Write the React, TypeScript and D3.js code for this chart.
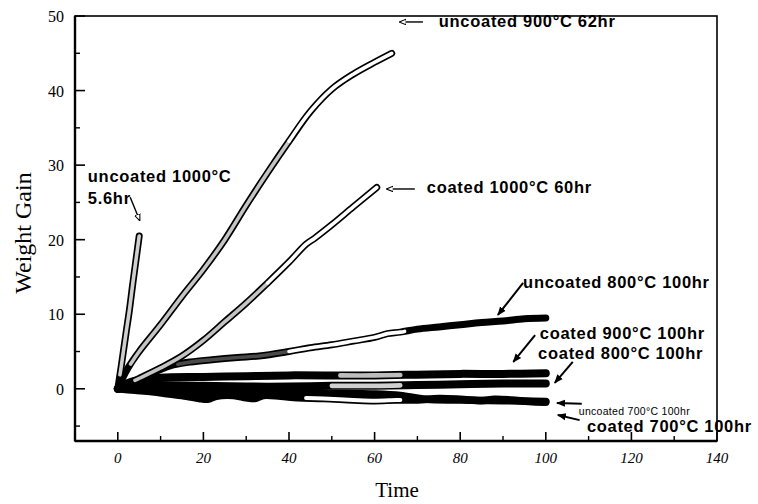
import React from "react";
import * as d3 from "d3";

type P = [number, number];

// ---- data (hours, weight gain) ----
const uncoated1000: P[] = [[0,0],[0.4,1.5],[0.8,3],[1.3,5],[1.9,7.4],[2.7,10.5],[3.5,14.1],[4.3,17.5],[5.0,20.5]];
const uncoated900: P[] = [[0,0],[1,1.3],[2.5,2.9],[5,5],[10,8.6],[15,12.4],[20,16],[25,20],[30,24.6],[35,29],[40,33.2],[45,37.2],[50,40.2],[55,42.2],[60,43.8],[64,45]];
const coated1000: P[] = [[0,0],[2,0.6],[5,1.4],[10,2.8],[15,4.4],[20,6.5],[25,9],[30,11.5],[35,14.2],[40,17],[44,19.4],[46,20.2],[50,22],[55,24.4],[60.5,27]];
const uncoated800: P[] = [[0,0],[3,0.7],[6,1.5],[10,2.6],[13,3.2],[17,3.6],[22,3.9],[28,4.2],[33,4.4],[40,5],[45,5.5],[50,5.9],[55,6.4],[60,6.9],[63,7.4],[66,7.6],[70,8.0],[75,8.3],[80,8.6],[85,8.9],[90,9.1],[95,9.4],[100,9.5]];
const coated900: P[] = [[0,0],[3,0.9],[6,1.3],[10,1.5],[20,1.6],[30,1.7],[40,1.8],[50,1.8],[60,1.8],[70,1.9],[80,2.0],[90,2.0],[100,2.1]];
const coated800: P[] = [[0,0],[3,0.5],[6,0.6],[10,0.5],[20,0.4],[30,0.3],[40,0.3],[50,0.4],[60,0.4],[70,0.5],[80,0.6],[90,0.7],[100,0.7]];
const uncoated700: P[] = [[0,0],[4,-0.2],[8,-0.4],[12,-0.7],[16,-1.0],[19,-1.3],[21,-1.4],[23,-1.0],[27,-0.9],[30,-1.2],[32,-1.3],[34,-0.9],[38,-1.0],[42,-1.2],[48,-1.3],[55,-1.5],[60,-1.6],[65,-1.5],[70,-1.5],[75,-1.3],[80,-1.4],[85,-1.6],[88,-1.4],[92,-1.5],[96,-1.7],[100,-1.8]];
const coated700: P[] = [[0,0],[5,-0.1],[10,-0.3],[20,-0.5],[30,-0.5],[40,-0.6],[50,-0.6],[60,-0.7],[66,-0.9],[72,-1.4],[80,-1.5],[90,-1.6],[100,-1.7]];

const xTicks = [0, 20, 40, 60, 80, 100, 120, 140];
const xMinor = [10, 30, 50, 70, 90, 110, 130];
const yTicks = [0, 10, 20, 30, 40, 50];
const yMinor = [-5, 5, 15, 25, 35, 45];

// annotations: label text, label anchor (data), arrow from -> to (data)
type Ann = { lines: string[]; at: P; from: P; to: P; size: number; weight: string; hollow: boolean };
const annotations: Ann[] = [
  { lines: ["uncoated 1000°C", "5.6hr"], at: [-7.0, 27.8], from: [2.9, 25.7], to: [5.1, 22.6], size: 16.5, weight: "bold", hollow: true },
  { lines: ["uncoated 900°C 62hr"], at: [75, 48.5], from: [71.3, 49.2], to: [65.9, 49.2], size: 16.5, weight: "bold", hollow: true },
  { lines: ["coated 1000°C 60hr"], at: [72.2, 26.3], from: [69.4, 26.8], to: [62.9, 26.8], size: 16.5, weight: "bold", hollow: true },
  { lines: ["uncoated 800°C 100hr"], at: [94.7, 13.5], from: [94.7, 14.2], to: [88.8, 9.9], size: 16.5, weight: "bold", hollow: false },
  { lines: ["coated 900°C 100hr"], at: [98.6, 6.7], from: [97.5, 7.2], to: [92.4, 3.6], size: 16.5, weight: "bold", hollow: false },
  { lines: ["coated 800°C 100hr"], at: [98.2, 4.0], from: [106.3, 3.6], to: [102.1, 0.8], size: 16.5, weight: "bold", hollow: false },
  { lines: ["uncoated 700°C 100hr"], at: [107.7, -3.5], from: [108.4, -2.0], to: [102.6, -1.9], size: 10.5, weight: "normal", hollow: false },
  { lines: ["coated 700°C 100hr"], at: [109.6, -5.8], from: [107.9, -4.2], to: [102.8, -3.5], size: 16.5, weight: "bold", hollow: false },
];

const W = 758, H = 504;
const x = d3.scaleLinear().domain([-10, 140]).range([75, 717]);
const y = d3.scaleLinear().domain([-7, 50]).range([441, 16]);

const line = d3.line<P>().x(d => x(d[0])).y(d => y(d[1])).curve(d3.curveCatmullRom.alpha(0.5));

function segment(pts: P[], x0: number, x1: number): P[] {
  const out: P[] = [];
  const interp = (a: P, b: P, xv: number): P => {
    const t = (xv - a[0]) / (b[0] - a[0]);
    return [xv, a[1] + t * (b[1] - a[1])];
  };
  for (let i = 0; i < pts.length; i++) {
    const p = pts[i];
    if (p[0] >= x0 && p[0] <= x1) {
      if (out.length === 0 && i > 0 && pts[i - 1][0] < x0) out.push(interp(pts[i - 1], p, x0));
      out.push(p);
    } else if (p[0] > x1 && i > 0 && pts[i - 1][0] <= x1) {
      if (out.length === 0 && pts[i - 1][0] < x0) out.push(interp(pts[i - 1], p, x0));
      out.push(interp(pts[i - 1], p, x1));
      break;
    }
  }
  return out;
}

type Band = { data: P[]; inner: [number, number, string][]; width: number };
const bands: Band[] = [
  { data: coated700, inner: [], width: 7.5 },
  { data: uncoated700, inner: [[44, 66, "#ffffff"]], width: 7.5 },
  { data: coated800, inner: [[50, 66, "#d0d0d0"]], width: 8 },
  { data: coated900, inner: [[52, 66, "#bdbdbd"]], width: 8 },
  { data: uncoated800, inner: [[14, 40, "#4a4a4a"], [40, 67, "#ffffff"]], width: 7 },
  { data: coated1000, inner: [[4, 35, "#c4c4c4"], [35, 61, "#ffffff"]], width: 7 },
  { data: uncoated900, inner: [[3, 40, "#c4c4c4"], [40, 64, "#ffffff"]], width: 7 },
  { data: uncoated1000, inner: [[0.5, 5, "#cfcfcf"]], width: 7 },
];

export default function App() {
  return (
    <svg width={W} height={H} style={{ position: "absolute", left: 0, top: 0, background: "#fff" }}
      fontFamily="'Liberation Serif', 'Times New Roman', serif">
      <defs>
        <marker id="hollow" viewBox="0 0 10 10" refX="9" refY="5" markerWidth="7" markerHeight="7" orient="auto" markerUnits="userSpaceOnUse">
          <path d="M0,1 L10,5 L0,9 Z" fill="#fff" stroke="#000" strokeWidth="1.5" />
        </marker>
        <marker id="solid" viewBox="0 0 10 10" refX="9" refY="5" markerWidth="9" markerHeight="9" orient="auto" markerUnits="userSpaceOnUse">
          <path d="M0,1 L10,5 L0,9 Z" fill="#000" />
        </marker>
      </defs>

      {/* frame */}
      <rect x={x(-10)} y={y(50)} width={x(140) - x(-10)} height={y(-7) - y(50)} fill="none" stroke="#000" strokeWidth={1.6} />
      <line x1={x(-10)} x2={x(-10)} y1={y(50)} y2={y(-7)} stroke="#000" strokeWidth={2.4} />
      <line x1={x(-10)} x2={x(140)} y1={y(-7)} y2={y(-7)} stroke="#000" strokeWidth={2.4} />

      {/* ticks */}
      {xTicks.map(t => (
        <g key={"xt" + t}>
          <line x1={x(t)} x2={x(t)} y1={y(-7)} y2={y(-7) - 9} stroke="#000" strokeWidth={1.6} />
          <text x={x(t)} y={463} textAnchor="middle" fontSize={15} fontStyle="italic">{t}</text>
        </g>
      ))}
      {xMinor.map(t => (
        <line key={"xm" + t} x1={x(t)} x2={x(t)} y1={y(-7)} y2={y(-7) - 5} stroke="#000" strokeWidth={1.4} />
      ))}
      {yTicks.map(t => (
        <g key={"yt" + t}>
          <line x1={x(-10)} x2={x(-10) + 10} y1={y(t)} y2={y(t)} stroke="#000" strokeWidth={1.6} />
          <text x={x(-10) - 11} y={y(t) + 6} textAnchor="end" fontSize={16}>{t}</text>
        </g>
      ))}
      {yMinor.map(t => (
        <line key={"ym" + t} x1={x(-10)} x2={x(-10) + 5} y1={y(t)} y2={y(t)} stroke="#000" strokeWidth={1.4} />
      ))}

      {/* axis titles */}
      <text x={397} y={497} textAnchor="middle" fontSize={21}>Time</text>
      <text transform={`translate(31,${233}) rotate(-90)`} textAnchor="middle" fontSize={24}>Weight Gain</text>

      {/* bands */}
      {bands.map((b, i) => (
        <g key={"b" + i}>
          <path d={line(b.data) || ""} fill="none" stroke="#000" strokeWidth={b.width} strokeLinecap="round" strokeLinejoin="round" />
          {b.inner.map(([a0, a1, c], j) => (
            <path key={j} d={line(segment(b.data, a0, a1)) || ""} fill="none" stroke={c} strokeWidth={b.width - 3.4} strokeLinecap="round" strokeLinejoin="round" />
          ))}
        </g>
      ))}

      {/* annotations */}
      <g fontFamily="'Liberation Sans', Arial, Helvetica, sans-serif">
        {annotations.map((a, i) => (
          <g key={"a" + i}>
            <line x1={x(a.from[0])} y1={y(a.from[1])} x2={x(a.to[0])} y2={y(a.to[1])} stroke="#000" strokeWidth={a.hollow ? 1.4 : 2}
              markerEnd={`url(#${a.hollow ? "hollow" : "solid"})`} />
            <text x={x(a.at[0])} y={y(a.at[1])} fontSize={a.size} fontWeight={a.weight}
              letterSpacing={a.size > 12 ? 0.7 : 0.3}>
              {a.lines.map((l, j) => (
                <tspan key={j} x={x(a.at[0])} dy={j === 0 ? 0 : 22}>{l}</tspan>
              ))}
            </text>
          </g>
        ))}
      </g>
    </svg>
  );
}
